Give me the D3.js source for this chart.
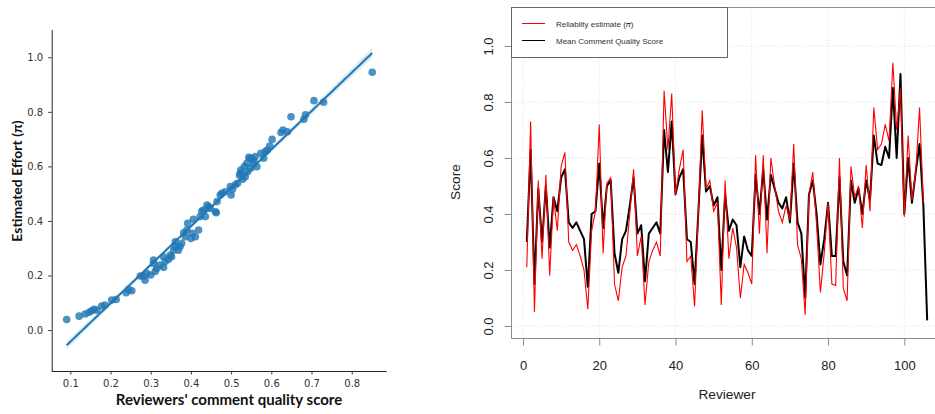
<!DOCTYPE html>
<html>
<head>
<meta charset="utf-8">
<script src="https://cdn.jsdelivr.net/npm/d3@7"></script>
<style>
  body { margin: 0; background: #fff; }
  svg { display: block; }
</style>
</head>
<body>
<svg id="chart" width="935" height="414"></svg>
<script>
// left panel: reviewers' comment quality score vs estimated effort
const qualityScore = [0.091,0.122,0.137,0.147,0.153,0.159,0.166,0.178,0.186,0.203,0.214,0.239,0.245,0.253,0.274,0.282,0.286,0.290,0.300,0.307,0.307,0.311,0.315,0.323,0.332,0.332,0.336,0.344,0.349,0.352,0.357,0.361,0.361,0.369,0.373,0.377,0.382,0.386,0.390,0.392,0.400,0.403,0.406,0.411,0.419,0.423,0.427,0.432,0.436,0.440,0.444,0.448,0.461,0.463,0.465,0.473,0.477,0.485,0.498,0.500,0.503,0.510,0.516,0.521,0.523,0.524,0.529,0.533,0.535,0.539,0.541,0.544,0.548,0.549,0.556,0.556,0.560,0.564,0.574,0.581,0.585,0.590,0.596,0.602,0.624,0.629,0.640,0.649,0.681,0.685,0.706,0.730,0.851];
const effort = [0.039,0.051,0.059,0.065,0.071,0.076,0.073,0.088,0.092,0.110,0.112,0.137,0.149,0.144,0.198,0.196,0.183,0.208,0.202,0.257,0.244,0.215,0.226,0.238,0.230,0.269,0.251,0.259,0.275,0.269,0.293,0.324,0.306,0.293,0.306,0.318,0.357,0.342,0.367,0.391,0.336,0.355,0.406,0.342,0.367,0.416,0.436,0.440,0.416,0.458,0.452,0.446,0.434,0.430,0.471,0.495,0.501,0.507,0.526,0.495,0.515,0.532,0.538,0.568,0.575,0.587,0.553,0.599,0.562,0.611,0.580,0.633,0.630,0.593,0.623,0.611,0.636,0.599,0.648,0.630,0.654,0.660,0.675,0.699,0.724,0.733,0.727,0.782,0.773,0.789,0.841,0.835,0.945];
const leftXTicks = [0.1, 0.2, 0.3, 0.4, 0.5, 0.6, 0.7, 0.8];
const leftYTicks = [0.0, 0.2, 0.4, 0.6, 0.8, 1.0];

// right panel: per reviewer scores
const reliability = [0.21,0.73,0.05,0.52,0.24,0.54,0.18,0.46,0.34,0.57,0.62,0.30,0.27,0.29,0.25,0.20,0.06,0.34,0.41,0.72,0.26,0.51,0.53,0.15,0.09,0.21,0.25,0.40,0.56,0.25,0.32,0.075,0.23,0.27,0.30,0.25,0.84,0.63,0.83,0.47,0.56,0.63,0.23,0.25,0.07,0.41,0.77,0.49,0.52,0.41,0.44,0.075,0.52,0.24,0.35,0.28,0.10,0.22,0.19,0.15,0.61,0.33,0.61,0.26,0.60,0.50,0.41,0.37,0.43,0.38,0.65,0.29,0.24,0.04,0.47,0.55,0.36,0.12,0.26,0.44,0.15,0.145,0.60,0.135,0.09,0.57,0.46,0.50,0.35,0.575,0.41,0.78,0.63,0.65,0.72,0.66,0.94,0.70,0.85,0.39,0.68,0.45,0.55,0.78,0.44];
const meanQuality = [0.30,0.63,0.15,0.49,0.30,0.50,0.28,0.46,0.41,0.53,0.56,0.37,0.35,0.37,0.34,0.31,0.14,0.40,0.41,0.58,0.35,0.50,0.52,0.26,0.19,0.31,0.34,0.43,0.53,0.33,0.36,0.16,0.33,0.35,0.37,0.33,0.70,0.55,0.73,0.47,0.53,0.56,0.31,0.30,0.15,0.41,0.68,0.48,0.50,0.43,0.46,0.20,0.47,0.34,0.38,0.36,0.21,0.32,0.27,0.25,0.54,0.40,0.56,0.38,0.54,0.49,0.44,0.42,0.46,0.37,0.58,0.37,0.33,0.10,0.47,0.52,0.40,0.22,0.31,0.44,0.25,0.25,0.53,0.23,0.18,0.52,0.44,0.49,0.40,0.52,0.45,0.68,0.58,0.575,0.64,0.60,0.85,0.60,0.90,0.40,0.60,0.44,0.55,0.65,0.43,0.02];
const rightXTicks = [0, 20, 40, 60, 80, 100];
const rightYTicks = [0.0, 0.2, 0.4, 0.6, 0.8, 1.0];
const legendLabels = ["Reliabilty estimate (\u{1D70B})", "Mean Comment Quality Score"];

const svg = d3.select("#chart");
const blue = "#1f77b4";

// ---------- left: seaborn style regplot ----------
const xL = d3.scaleLinear().domain([0.0537, 0.887]).range([51.7, 386.7]);
const yL = d3.scaleLinear().domain([-0.15, 1.10]).range([371, 30]);

const pts = qualityScore.map((x, i) => ({ x, y: effort[i] }));

// least squares fit + 95% band
const n = pts.length;
const mx = d3.mean(pts, d => d.x);
const my = d3.mean(pts, d => d.y);
const sxx = d3.sum(pts, d => (d.x - mx) ** 2);
const sxy = d3.sum(pts, d => (d.x - mx) * (d.y - my));
const slope = sxy / sxx;
const intercept = my - slope * mx;
const resid = Math.sqrt(d3.sum(pts, d => (d.y - (intercept + slope * d.x)) ** 2) / (n - 2));
const [x0, x1] = d3.extent(pts, d => d.x);
const fitX = d3.range(0, 101).map(k => x0 + (x1 - x0) * k / 100);
const band = fitX.map(x => {
    const yh = intercept + slope * x;
    const se = resid * Math.sqrt(1 / n + (x - mx) ** 2 / sxx);
    return { x, y: yh, lo: yh - 1.98 * se, hi: yh + 1.98 * se };
});

const left = svg.append("g");

left.append("path")
    .datum(band)
    .attr("fill", blue)
    .attr("fill-opacity", 0.15)
    .attr("d", d3.area().x(d => xL(d.x)).y0(d => yL(d.lo)).y1(d => yL(d.hi)));

left.selectAll("circle")
    .data(pts)
    .enter()
    .append("circle")
    .attr("cx", d => xL(d.x))
    .attr("cy", d => yL(d.y))
    .attr("r", 3.8)
    .attr("fill", blue)
    .attr("fill-opacity", 0.8);

left.append("path")
    .datum(band)
    .attr("fill", "none")
    .attr("stroke", blue)
    .attr("stroke-width", 2)
    .attr("d", d3.line().x(d => xL(d.x)).y(d => yL(d.y)));

const lxAxis = left.append("g")
    .attr("transform", "translate(0,371)")
    .call(d3.axisBottom(xL).tickValues(leftXTicks).tickSize(3.5).tickPadding(5).tickFormat(d3.format(".1f")));
const lyAxis = left.append("g")
    .attr("transform", "translate(51.7,0)")
    .call(d3.axisLeft(yL).tickValues(leftYTicks).tickSize(3.5).tickPadding(5).tickFormat(d3.format(".1f")));

[lxAxis, lyAxis].forEach(a => {
    a.select(".domain").attr("stroke", "#262626").attr("d", a === lxAxis ? "M51.7,0.5H386.7" : "M0.5,30V371");
    a.selectAll(".tick line").attr("stroke", "#333");
    a.selectAll("text").attr("fill", "#333").style("font", "10px 'DejaVu Sans'");
});

left.append("text")
    .attr("x", 229)
    .attr("y", 405)
    .attr("text-anchor", "middle")
    .attr("fill", "#111")
    .style("font", "bold 15px Lato")
    .text("Reviewers' comment quality score");

left.append("text")
    .attr("transform", "translate(22,181) rotate(-90)")
    .attr("text-anchor", "middle")
    .attr("fill", "#111")
    .style("font", "bold 14px Lato")
    .text("Estimated Effort (\u03C0)");

// ---------- right: base R style line plot ----------
const xR = d3.scaleLinear().domain([0, 100]).range([523, 904.3]);
const yR = d3.scaleLinear().domain([0, 1]).range([326, 46]);
const right = svg.append("g");
const axisGray = "#8c8c8c";

// dotted grid
right.selectAll(".vgrid")
    .data(rightXTicks)
    .enter()
    .append("line")
    .attr("x1", d => xR(d)).attr("x2", d => xR(d))
    .attr("y1", 7).attr("y2", 338)
    .attr("stroke", "#e0e0e0")
    .attr("stroke-dasharray", "1,2");
right.selectAll(".hgrid")
    .data(rightYTicks)
    .enter()
    .append("line")
    .attr("x1", 511).attr("x2", 935)
    .attr("y1", d => yR(d)).attr("y2", d => yR(d))
    .attr("stroke", "#e0e0e0")
    .attr("stroke-dasharray", "1,2");

const lineR = d3.line().x((d, i) => xR(i + 1)).y(d => yR(d));

right.append("path")
    .datum(meanQuality)
    .attr("fill", "none")
    .attr("stroke", "#000")
    .attr("stroke-width", 2)
    .attr("stroke-linejoin", "round")
    .attr("d", lineR);

right.append("path")
    .datum(reliability)
    .attr("fill", "none")
    .attr("stroke", "#ff0000")
    .attr("stroke-width", 1.1)
    .attr("d", lineR);

// box (left, top, bottom edges visible)
right.append("path")
    .attr("d", "M935,7.5H511.5V338.5H935")
    .attr("fill", "none")
    .attr("stroke", axisGray);

const rxAxis = right.append("g")
    .attr("transform", "translate(0,338.5)")
    .call(d3.axisBottom(xR).tickValues(rightXTicks).tickSize(7).tickPadding(15));
const ryAxis = right.append("g")
    .attr("transform", "translate(511.5,0)")
    .call(d3.axisLeft(yR).tickValues(rightYTicks).tickSize(7).tickFormat(d3.format(".1f")));

[rxAxis, ryAxis].forEach(a => {
    a.select(".domain").remove();
    a.selectAll(".tick line").attr("stroke", axisGray);
    a.selectAll("text").attr("fill", "#222").style("font", "13px 'Liberation Sans'");
});
ryAxis.selectAll("text")
    .attr("x", null).attr("dy", null)
    .attr("text-anchor", "middle")
    .attr("transform", "translate(-18.5,0) rotate(-90)");

right.append("text")
    .attr("x", 727)
    .attr("y", 399)
    .attr("text-anchor", "middle")
    .attr("fill", "#222")
    .style("font", "13.7px 'Liberation Sans'")
    .text("Reviewer");

right.append("text")
    .attr("transform", "translate(460,182) rotate(-90)")
    .attr("text-anchor", "middle")
    .attr("fill", "#222")
    .style("font", "13.7px 'Liberation Sans'")
    .text("Score");

// legend
const legend = right.append("g");
legend.append("rect")
    .attr("x", 511.5).attr("y", 7.5)
    .attr("width", 216).attr("height", 50)
    .attr("fill", "#fff")
    .attr("stroke", "#666");
const legendColors = ["#ff0000", "#000"];
legendLabels.forEach((lab, i) => {
    const ly = 23.5 + i * 17;
    legend.append("line")
        .attr("x1", 522).attr("x2", 545)
        .attr("y1", ly).attr("y2", ly)
        .attr("stroke", legendColors[i])
        .attr("stroke-width", 1);
    legend.append("text")
        .attr("x", 556).attr("y", ly + 3)
        .attr("fill", "#333")
        .style("font", "8px 'Liberation Sans'")
        .text(lab);
});
</script>
</body>
</html>
